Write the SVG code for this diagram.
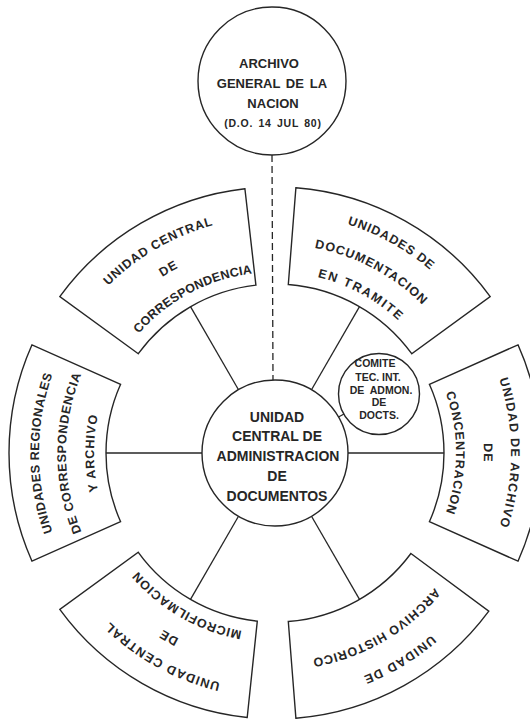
<svg xmlns="http://www.w3.org/2000/svg" width="530" height="722" viewBox="0 0 530 722">
  <style>
    .ol { fill: #fff; stroke: #262626; stroke-width: 1.4; }
    .ln { fill: none; stroke: #262626; stroke-width: 1.3; }
    .dash { stroke-dasharray: 7 4; }
    .t { font-family: "Liberation Sans", Arial, sans-serif; font-weight: bold; fill: #262626; text-anchor: middle; }
    .seg { font-size: 12.5px; letter-spacing: 1px; }
    .ctr { font-size: 14px; }
    .top { font-size: 13px; }
    .cm { font-size: 10.5px; }
  </style>
  <defs>
    <!-- clockwise guide arcs around the hub, centred on 12 o'clock; texts rotate them into place -->
    <path id="a240" d="M 49.5,370.9 A 240 240 0 0 1 500.5,370.9"/>
    <path id="a236" d="M 53.2,372.3 A 236 236 0 0 1 496.8,372.3"/>
    <path id="a209" d="M 78.6,381.5 A 209 209 0 0 1 471.4,381.5"/>
    <path id="a181" d="M 104.9,391.1 A 181 181 0 0 1 445.1,391.1"/>
  </defs>
  <rect width="530" height="722" fill="#fff"/>

  <!-- connectors -->
  <g id="connectors">
    <line class="ln dash" x1="272" y1="155" x2="273" y2="380"/>
    <line class="ln" x1="238.5" y1="389.8" x2="190.5" y2="306.6"/>
    <line class="ln" x1="311.5" y1="389.8" x2="359.5" y2="306.6"/>
    <line class="ln" x1="348" y1="453" x2="444" y2="453"/>
    <line class="ln" x1="202" y1="453" x2="106" y2="453"/>
    <line class="ln" x1="311.5" y1="516.2" x2="359.5" y2="599.4"/>
    <line class="ln" x1="238.5" y1="516.2" x2="190.5" y2="599.4"/>
    <line class="ln" x1="338.5" y1="417" x2="344" y2="414"/>
  </g>

  <!-- top node -->
  <g id="archivo-general">
    <circle class="ol" cx="272" cy="81" r="74"/>
    <text class="t top" x="269" y="68">ARCHIVO</text>
    <text class="t top" x="272" y="88" style="word-spacing:2px">GENERAL DE<tspan dx="6">LA</tspan></text>
    <text class="t top" x="273" y="108">NACION</text>
    <text class="t" x="273" y="127" style="font-size:10.5px;letter-spacing:0.8px;word-spacing:1.5px">(D.O. 14 JUL 80)</text>
  </g>

  <!-- hub -->
  <g id="unidad-central-admin">
    <circle class="ol" cx="275" cy="453" r="73"/>
    <text class="t ctr" x="277" y="422">UNIDAD</text>
    <text class="t ctr" x="277" y="441">CENTRAL DE</text>
    <text class="t ctr" x="278" y="461">ADMINISTRACION</text>
    <text class="t ctr" x="277" y="481">DE</text>
    <text class="t ctr" x="277" y="501">DOCUMENTOS</text>
  </g>

  <g id="comite">
    <circle class="ol" cx="379" cy="394" r="40.5"/>
    <text class="t cm" x="375" y="367">COMITE</text>
    <text class="t cm" x="378" y="381">TEC. INT.</text>
    <text class="t cm" x="381" y="394" style="word-spacing:3px">DE ADMON.</text>
    <text class="t cm" x="379" y="406">DE</text>
    <text class="t cm" x="379" y="419">DOCTS.</text>
  </g>

  <!-- ring segments -->
  <g id="correspondencia">
    <path class="ol" d="M 138.3,353.7 L 59.8,296.6 A 266 266 0 0 1 244.9,188.7 L 255.9,285.1 A 169 169 0 0 0 138.3,353.7 Z"/>
    <text class="t seg" transform="rotate(-30 275 453)" style="letter-spacing:0.8px"><textPath href="#a236" startOffset="50%">UNIDAD CENTRAL</textPath></text>
    <text class="t seg" transform="rotate(-30 275 453)"><textPath href="#a209" startOffset="50%">DE</textPath></text>
    <text class="t seg" transform="rotate(-28 275 453)" style="letter-spacing:0.2px"><textPath href="#a181" startOffset="50%">CORRESPONDENCIA</textPath></text>
  </g>

  <g id="documentacion-tramite">
    <path class="ol" d="M 288.3,284.5 L 295.9,187.8 A 266 266 0 0 1 490.2,296.6 L 411.7,353.7 A 169 169 0 0 0 288.3,284.5 Z"/>
    <text class="t seg" transform="rotate(29 275 453)" style="letter-spacing:0.9px"><textPath href="#a240" startOffset="50%">UNIDADES DE</textPath></text>
    <text class="t seg" transform="rotate(28 275 453)"><textPath href="#a209" startOffset="50%">DOCUMENTACION</textPath></text>
    <text class="t seg" transform="rotate(28.5 275 453)" style="letter-spacing:1.8px"><textPath href="#a181" startOffset="50%">EN TRAMITE</textPath></text>
  </g>

  <g id="archivo-concentracion">
    <path class="ol" d="M 429.4,384.3 L 518.0,344.8 A 266 266 0 0 1 518.0,561.2 L 429.4,521.7 A 169 169 0 0 0 429.4,384.3 Z"/>
    <text class="t seg" transform="rotate(90 275 453)" style="letter-spacing:1.2px"><textPath href="#a236" startOffset="50%">UNIDAD DE ARCHIVO</textPath></text>
    <text class="t seg" transform="rotate(90 275 453)"><textPath href="#a209" startOffset="50%">DE</textPath></text>
    <text class="t seg" transform="rotate(90 275 453)" style="letter-spacing:0.9px"><textPath href="#a181" startOffset="50%">CONCENTRACION</textPath></text>
  </g>

  <g id="archivo-historico">
    <path class="ol" d="M 410.9,553.5 L 488.8,611.2 A 266 266 0 0 1 295.9,718.2 L 288.3,621.5 A 169 169 0 0 0 410.9,553.5 Z"/>
    <text class="t seg" transform="rotate(149 275 453)" style="letter-spacing:1.3px"><textPath href="#a240" startOffset="50%">UNIDAD DE</textPath></text>
    <text class="t seg" transform="rotate(150 275 453)" style="letter-spacing:0.85px"><textPath href="#a209" startOffset="50%">ARCHIVO HISTORICO</textPath></text>
  </g>

  <g id="microfilmacion">
    <path class="ol" d="M 257.3,621.1 L 247.2,717.5 A 266 266 0 0 1 59.8,609.4 L 138.3,552.3 A 169 169 0 0 0 257.3,621.1 Z"/>
    <text class="t seg" transform="rotate(209 275 453)" style="letter-spacing:1.2px"><textPath href="#a236" startOffset="50%">UNIDAD CENTRAL</textPath></text>
    <text class="t seg" transform="rotate(210 275 453)"><textPath href="#a209" startOffset="50%">DE</textPath></text>
    <text class="t seg" transform="rotate(210 275 453)" style="letter-spacing:0.85px"><textPath href="#a181" startOffset="50%">MICROFILMACION</textPath></text>
  </g>

  <g id="regionales">
    <path class="ol" d="M 120.6,521.7 L 32.0,561.2 A 266 266 0 0 1 32.0,344.8 L 120.6,384.3 A 169 169 0 0 0 120.6,521.7 Z"/>
    <text class="t seg" transform="rotate(270 275 453)" style="letter-spacing:0.5px"><textPath href="#a236" startOffset="50%">UNIDADES REGIONALES</textPath></text>
    <text class="t seg" transform="rotate(270 275 453)" style="letter-spacing:0.7px"><textPath href="#a209" startOffset="50%">DE CORRESPONDENCIA</textPath></text>
    <text class="t seg" transform="rotate(270 275 453)" style="letter-spacing:0.9px"><textPath href="#a181" startOffset="50%">Y ARCHIVO</textPath></text>
  </g>
</svg>
